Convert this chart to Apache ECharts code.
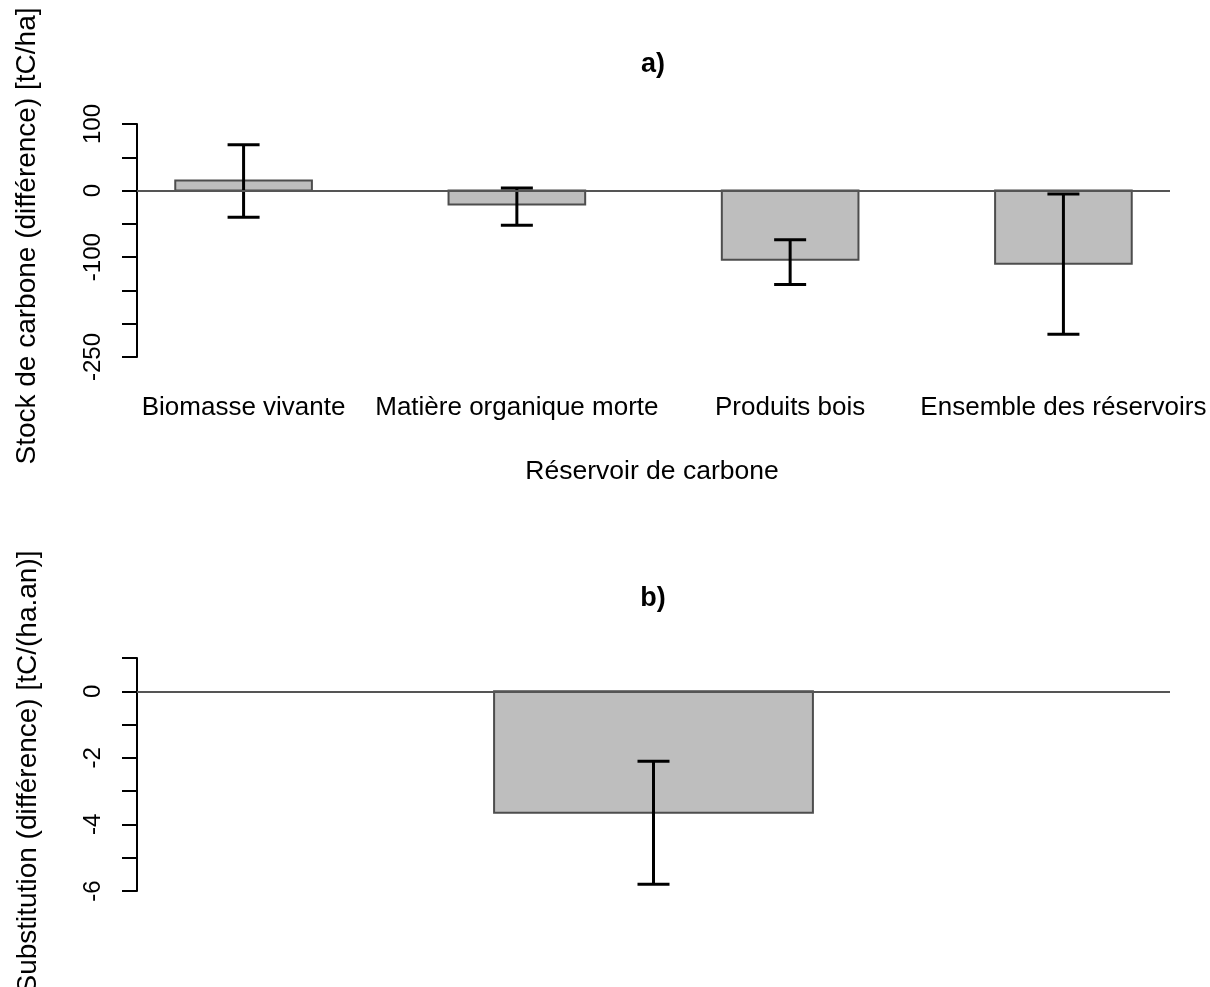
<!DOCTYPE html>
<html>
<head>
<meta charset="utf-8">
<script src="https://cdn.jsdelivr.net/npm/echarts@6/dist/echarts.min.js"></script>
<style>
  html, body { margin: 0; background: #fff; }
  #chart { width: 1210px; height: 987px; }
</style>
</head>
<body>
<div id="chart"></div>
<script>
// a) carbon stock difference by pool [tC/ha]
const pools = ['Biomasse vivante', 'Matière organique morte', 'Produits bois', 'Ensemble des réservoirs']
const stockDiff = [15, -21, -104, -110]
const stockLow = [-40, -52, -141, -216]
const stockHigh = [69, 4, -74, -5]
const stockTicks = [100, 0, -100, -250]

// b) substitution difference [tC/(ha.an)]
const substDiff = [-3.65]
const substLow = [-5.8]
const substHigh = [-2.1]
const substTicks = [0, -2, -4, -6]

const FONT = '"Liberation Sans", Arial, sans-serif'

// barplot-like layout: width 1, space 1, midpoints at 1.5, 3.5, ...
const mids = n => Array.from({ length: n }, (_, i) => 1 + 2 * i + 0.5)
const extend = (lo, hi) => [lo - (hi - lo) * 0.04, hi + (hi - lo) * 0.04]

const midsA = mids(pools.length)
const xlimA = extend(1, 2 * pools.length)
const xlimB = extend(0, 3)
const midsB = mids(substDiff.length)

const barItem = (params, api) => {
  const x = api.value(0)
  const p0 = api.coord([x - 0.5, 0])
  const p1 = api.coord([x + 0.5, api.value(1)])
  return {
    type: 'rect',
    shape: { x: p0[0], y: Math.min(p0[1], p1[1]), width: p1[0] - p0[0], height: Math.abs(p1[1] - p0[1]) },
    style: { fill: '#bebebe', stroke: '#4d4d4d', lineWidth: 2 }
  }
}

const errItem = (params, api) => {
  const x = api.value(0)
  const lo = api.coord([x, api.value(1)])
  const hi = api.coord([x, api.value(2)])
  const w = 16
  const style = { stroke: '#000', lineWidth: 3 }
  return {
    type: 'group',
    children: [
      { type: 'line', shape: { x1: lo[0], y1: lo[1], x2: hi[0], y2: hi[1] }, style },
      { type: 'line', shape: { x1: lo[0] - w, y1: lo[1], x2: lo[0] + w, y2: lo[1] }, style },
      { type: 'line', shape: { x1: hi[0] - w, y1: hi[1], x2: hi[0] + w, y2: hi[1] }, style }
    ]
  }
}

const zeroLine = {
  silent: true,
  symbol: ['none', 'none'],
  label: { show: false },
  lineStyle: { color: '#555', width: 2, type: 'solid' },
  data: [{ yAxis: 0 }]
}

const yAxisBase = (min, max, interval, ticks) => ({
  type: 'value',
  min, max, interval,
  splitLine: { show: false },
  axisLine: { show: true, onZero: false, lineStyle: { color: '#000', width: 2 } },
  axisTick: { show: true, length: 15, lineStyle: { color: '#000', width: 2 } },
  axisLabel: {
    rotate: 90,
    margin: 32,
    color: '#000',
    fontFamily: FONT,
    fontSize: 24,
    formatter: v => (ticks.includes(v) ? String(v) : '')
  }
})

const text = (str, x, y, size, opts = {}) => ({
  type: 'text',
  x, y,
  rotation: opts.rotate ? Math.PI / 2 : 0,
  style: {
    text: str,
    font: `${opts.bold ? 'bold ' : ''}${size}px ${FONT}`,
    fill: '#000',
    align: 'center',
    verticalAlign: 'middle'
  }
})

const chart = echarts.init(document.getElementById('chart'))

chart.setOption({
  animation: false,
  backgroundColor: '#fff',
  grid: [
    { left: 137, right: 40, top: 124, height: 233 },
    { left: 137, right: 40, top: 658, height: 233 }
  ],
  xAxis: [
    {
      gridIndex: 0,
      type: 'value',
      min: xlimA[0], max: xlimA[1],
      splitLine: { show: false },
      axisLine: { show: false },
      axisTick: { show: false },
      axisLabel: {
        customValues: midsA,
        margin: 38,
        color: '#000',
        fontFamily: FONT,
        fontSize: 26,
        formatter: v => pools[midsA.indexOf(v)] || ''
      }
    },
    {
      gridIndex: 1,
      type: 'value',
      min: xlimB[0], max: xlimB[1],
      show: false
    }
  ],
  yAxis: [
    Object.assign({ gridIndex: 0 }, yAxisBase(-250, 100, 50, stockTicks)),
    Object.assign({ gridIndex: 1 }, yAxisBase(-6, 1, 1, substTicks))
  ],
  series: [
    {
      type: 'custom',
      xAxisIndex: 0, yAxisIndex: 0,
      renderItem: barItem,
      data: stockDiff.map((v, i) => [midsA[i], v]),
      markLine: zeroLine,
      z: 2
    },
    {
      type: 'custom',
      xAxisIndex: 0, yAxisIndex: 0,
      renderItem: errItem,
      data: stockLow.map((v, i) => [midsA[i], v, stockHigh[i]]),
      z: 3
    },
    {
      type: 'custom',
      xAxisIndex: 1, yAxisIndex: 1,
      renderItem: barItem,
      data: substDiff.map((v, i) => [midsB[i], v]),
      markLine: zeroLine,
      z: 2
    },
    {
      type: 'custom',
      xAxisIndex: 1, yAxisIndex: 1,
      renderItem: errItem,
      data: substLow.map((v, i) => [midsB[i], v, substHigh[i]]),
      z: 3
    }
  ],
  graphic: [
    text('a)', 653, 65, 27, { bold: true }),
    text('b)', 653, 599, 27, { bold: true }),
    text('Réservoir de carbone', 652, 472, 26.5),
    text('Stock de carbone (différence) [tC/ha]', 27, 236, 28, { rotate: true }),
    text('Substitution (différence) [tC/(ha.an)]', 28, 772, 28, { rotate: true })
  ]
})
</script>
</body>
</html>
